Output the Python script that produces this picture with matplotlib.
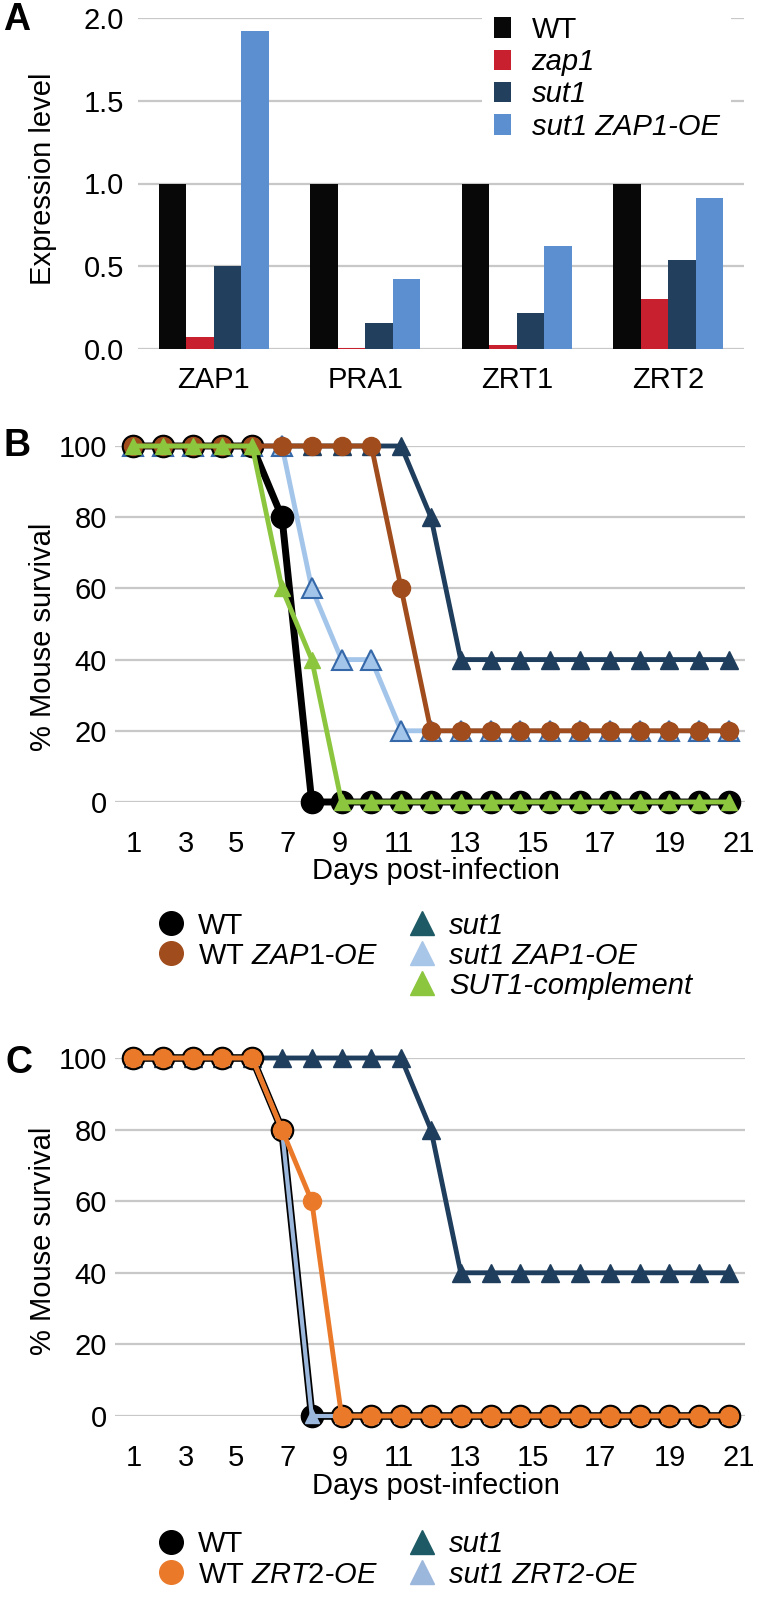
import matplotlib
matplotlib.use("Agg")
import matplotlib.pyplot as plt
import numpy as np
from matplotlib.lines import Line2D
from matplotlib.ticker import FormatStrFormatter

plt.rcParams["font.family"] = ["Liberation Sans", "DejaVu Sans"]
plt.rcParams["mathtext.fontset"] = "custom"
plt.rcParams["mathtext.rm"] = "Liberation Sans"
plt.rcParams["mathtext.it"] = "Liberation Sans:italic"

# ---- panel A data -------------------------------------------------------
genes = ["ZAP1", "PRA1", "ZRT1", "ZRT2"]
strains_a = ["WT", "zap1", "sut1", "sut1 ZAP1-OE"]
expr_wt = [1.0, 1.0, 1.0, 1.0]
expr_zap1 = [0.07, 0.005, 0.025, 0.30]
expr_sut1 = [0.50, 0.16, 0.22, 0.54]
expr_sut1_oe = [1.92, 0.42, 0.62, 0.91]

# ---- panels B / C data (one value per day) ------------------------------
days = list(range(1, 22))
day_labels = ["1", "3", "5", "7", "9", "11", "13", "15", "17", "19", "21"]

b_wt = [100, 100, 100, 100, 100, 80, 0, 0, 0, 0, 0, 0, 0, 0, 0, 0, 0, 0, 0, 0, 0]
b_wt_zap1oe = [100, 100, 100, 100, 100, 100, 100, 100, 100, 60, 20, 20, 20, 20, 20, 20, 20, 20, 20, 20, 20]
b_sut1 = [100, 100, 100, 100, 100, 100, 100, 100, 100, 100, 80, 40, 40, 40, 40, 40, 40, 40, 40, 40, 40]
b_sut1_zap1oe = [100, 100, 100, 100, 100, 100, 60, 40, 40, 20, 20, 20, 20, 20, 20, 20, 20, 20, 20, 20, 20]
b_complement = [100, 100, 100, 100, 100, 60, 40, 0, 0, 0, 0, 0, 0, 0, 0, 0, 0, 0, 0, 0, 0]

c_wt = [100, 100, 100, 100, 100, 80, 0, 0, 0, 0, 0, 0, 0, 0, 0, 0, 0, 0, 0, 0, 0]
c_wt_zrt2oe = [100, 100, 100, 100, 100, 80, 60, 0, 0, 0, 0, 0, 0, 0, 0, 0, 0, 0, 0, 0, 0]
c_sut1 = [100, 100, 100, 100, 100, 100, 100, 100, 100, 100, 80, 40, 40, 40, 40, 40, 40, 40, 40, 40, 40]
c_sut1_zrt2oe = [100, 100, 100, 100, 100, 80, 0, 0, 0, 0, 0, 0, 0, 0, 0, 0, 0, 0, 0, 0, 0]

# where the day labels sit (they are not aligned on the markers in the original)
label_pos = [1.03, 2.78, 4.46, 6.2, 7.95, 9.93, 12.15, 14.43, 16.67, 19.02, 21.33]

W, H = 759, 1599
FS = 21
GRID = "#c8c8c8"

fig = plt.figure(figsize=(W / 100, H / 100), dpi=100)


def px_axes(left, top, right, bottom):
    return fig.add_axes([left / W, 1 - bottom / H, (right - left) / W, (bottom - top) / H])


def clean(ax):
    for s in ax.spines.values():
        s.set_visible(False)
    ax.tick_params(length=0, labelsize=FS)
    ax.grid(axis="y", color=GRID, lw=1.6)
    ax.set_axisbelow(True)


# ---- A ------------------------------------------------------------------
axA = px_axes(138, 18, 744, 349)
clean(axA)
x = np.arange(len(genes))
w = 0.182
cols_a = ["#080808", "#c8202f", "#223f5e", "#5b8fd0"]
series_a = [expr_wt, expr_zap1, expr_sut1, expr_sut1_oe]
for i, (vals, col, lab) in enumerate(zip(series_a, cols_a, strains_a)):
    axA.bar(x + (i - 1.5) * w, vals, width=w, color=col, label=lab, zorder=2)
axA.set_xlim(-0.5, 3.5)
axA.set_ylim(0, 2.0)
axA.set_yticks([0, 0.5, 1.0, 1.5, 2.0])
axA.yaxis.set_major_formatter(FormatStrFormatter("%.1f"))
axA.set_xticks(x)
axA.set_xticklabels(genes)
axA.tick_params(axis="x", pad=12)
axA.tick_params(axis="y", pad=10)
axA.set_ylabel("Expression level", fontsize=FS, va="center")
axA.yaxis.set_label_coords(-0.157, 0.514)
legA = axA.legend(loc="upper left", bbox_to_anchor=(482 / W, 1 - 4 / H),
                  bbox_transform=fig.transFigure, fontsize=FS, frameon=True,
                  facecolor="white", edgecolor="none", framealpha=1,
                  handlelength=0.6, handleheight=0.7, handletextpad=0.7,
                  labelspacing=0.15, borderpad=0.4, borderaxespad=0)
for t in legA.get_texts()[1:]:
    t.set_fontstyle("italic")

# ---- B ------------------------------------------------------------------
axB = px_axes(115, 446, 745, 802)
clean(axB)
navy = "#1f3d5c"
teal = "#1d5a66"
brown = "#a04c1c"
light_b = "#a4c5ea"
green = "#8cc63f"
axB.plot(days, b_sut1, color=navy, lw=3.5, marker="^", ms=13, zorder=3, clip_on=False)
axB.plot(days, b_sut1_zap1oe, color=light_b, lw=3.5, marker="^", ms=15,
         mfc=light_b, mec="#3568a8", mew=1.5, zorder=4, clip_on=False)
axB.plot(days, b_wt, color="black", lw=5, marker="o", ms=16, zorder=5, clip_on=False)
axB.plot(days, b_wt_zap1oe, color=brown, lw=3.5, marker="o", ms=13, zorder=6, clip_on=False)
axB.plot(days, b_complement, color=green, lw=3.5, marker="^", ms=11, zorder=7, clip_on=False)

# ---- C ------------------------------------------------------------------
axC = px_axes(115, 1058, 745, 1416)
clean(axC)
orange = "#ea7a2a"
light_c = "#9bb7dc"
axC.plot(days, c_sut1, color=navy, lw=3.5, marker="^", ms=13, zorder=3, clip_on=False)
axC.plot(days, c_wt, color="black", lw=5.5, marker="o", ms=16, zorder=4, clip_on=False)
axC.plot(days, c_sut1_zrt2oe, color=light_c, lw=3, marker="^", ms=10, zorder=5, clip_on=False)
axC.plot(days, c_wt_zrt2oe, color=orange, lw=3.5, marker="o", ms=13, zorder=6, clip_on=False)

for ax, ly in ((axB, 0.463), (axC, 0.489)):
    ax.set_xlim(0.396, 21.54)
    ax.set_ylim(0, 100)
    ax.set_yticks([0, 20, 40, 60, 80, 100])
    ax.set_xticks(label_pos)
    ax.set_xticklabels(day_labels)
    ax.tick_params(axis="x", pad=20)
    ax.tick_params(axis="y", pad=6)
    ax.set_ylabel("% Mouse survival", fontsize=FS, va="center")
    ax.yaxis.set_label_coords(-0.114, ly)
    ax.set_xlabel("Days post-infection", fontsize=FS, va="center")
    ax.xaxis.set_label_coords(0.51, -0.195)


def mk(marker, color, ms=17):
    return Line2D([], [], ls="none", marker=marker, ms=ms, color=color, mec=color)


blank = Line2D([], [], ls="none")
light_leg_b = "#a8c6e8"

handles_b = [mk("o", "black"), mk("o", brown), blank,
             mk("^", teal), mk("^", light_leg_b), mk("^", green)]
labels_b = ["WT", r"WT $\mathit{ZAP1}$-$\mathit{OE}$", "",
            "sut1", "sut1 ZAP1-OE", "SUT1-complement"]
legB = axB.legend(handles_b, labels_b, ncol=2, loc="upper left",
                  bbox_to_anchor=(156.5 / W, 1 - 911.5 / H), bbox_transform=fig.transFigure,
                  fontsize=FS, frameon=False, handlelength=1.0, handletextpad=0.43,
                  columnspacing=0.98, labelspacing=0.07, borderpad=0, borderaxespad=0)
for t in legB.get_texts()[3:]:
    t.set_fontstyle("italic")

handles_c = [mk("o", "black"), mk("o", orange), mk("^", teal), mk("^", light_c)]
labels_c = ["WT", r"WT $\mathit{ZRT2}$-$\mathit{OE}$", "sut1", "sut1 ZRT2-OE"]
legC = axC.legend(handles_c, labels_c, ncol=2, loc="upper left",
                  bbox_to_anchor=(156.5 / W, 1 - 1530.5 / H), bbox_transform=fig.transFigure,
                  fontsize=FS, frameon=False, handlelength=1.0, handletextpad=0.43,
                  columnspacing=0.98, labelspacing=0.07, borderpad=0, borderaxespad=0)
for t in legC.get_texts()[2:]:
    t.set_fontstyle("italic")

for letter, (lx, ly) in {"A": (17, 20), "B": (17, 446), "C": (19, 1063)}.items():
    fig.text(lx / W, 1 - ly / H, letter, fontsize=27, fontweight="bold", ha="center", va="center")

fig.savefig("out.png", dpi=100, facecolor="white")
